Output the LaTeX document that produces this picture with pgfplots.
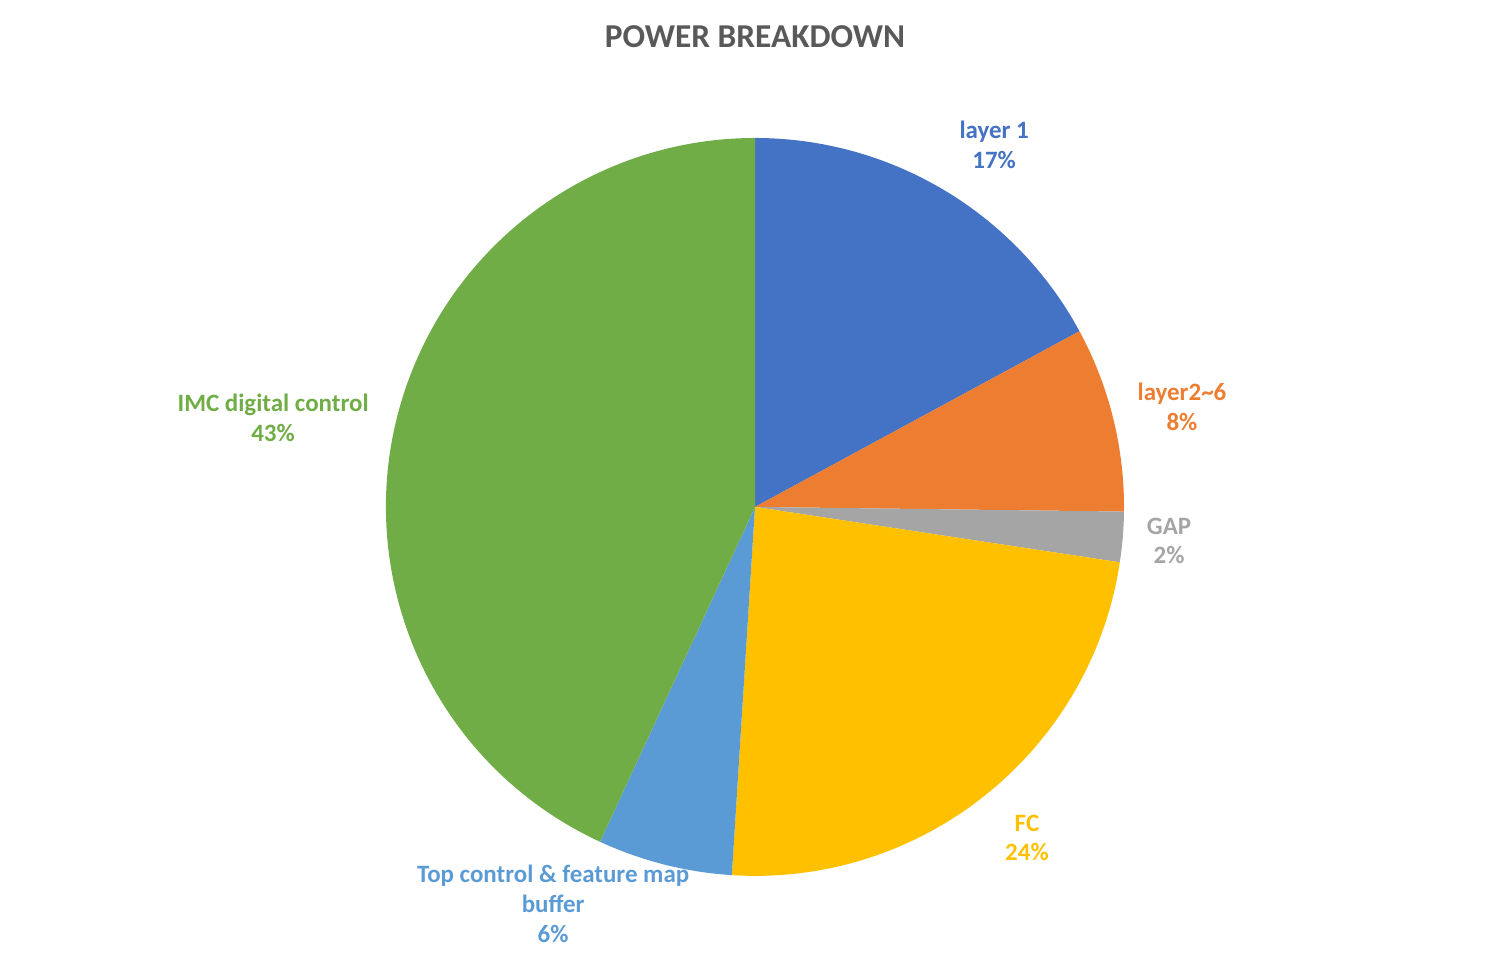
\documentclass[border=0pt]{standalone}
\usepackage{fontspec}
\setmainfont{Carlito}
\usepackage{pgfplots}
\pgfplotsset{compat=1.18}
\usepackage{pgfplotstable}

\definecolor{cLayerA}{HTML}{4472C4}
\definecolor{cLayerB}{HTML}{ED7D31}
\definecolor{cGap}{HTML}{A5A5A5}
\definecolor{cFC}{HTML}{FFC000}
\definecolor{cTop}{HTML}{5B9BD5}
\definecolor{cIMC}{HTML}{70AD47}
\definecolor{cTitle}{HTML}{595959}

\tikzset{lbl/.style={font=\fontsize{7.1}{8.5}\selectfont\bfseries, align=center}}

% share of power, clockwise from 12 o'clock
\pgfplotstableread{
value colour
17.1  cLayerA
8.1   cLayerB
2.2   cGap
23.6  cFC
5.9   cTop
43.1  cIMC
}\powertbl

\begin{document}
\begin{tikzpicture}
\begin{axis}[
  hide axis,
  scale only axis,
  width=15.1cm, height=9.53cm,
  xmin=-2.046, xmax=2.046,
  ymin=-1.209, ymax=1.374,
  clip=false,
]
% keep the whole chart area as the page
\path (rel axis cs:0,0) rectangle (rel axis cs:1,1);
\def\startang{90}
\pgfplotsforeachungrouped \i in {0,...,5}{
  \pgfplotstablegetelem{\i}{value}\of\powertbl
  \let\val\pgfplotsretval
  \pgfplotstablegetelem{\i}{colour}\of\powertbl
  \let\col\pgfplotsretval
  \pgfmathsetmacro\endang{\startang-3.6*\val}
  \edef\cmd{\noexpand\fill[\col] (axis cs:0,0) -- (axis cs:{cos(\startang)},{sin(\startang)})
    arc[start angle=\startang, end angle=\endang, radius=1] -- cycle;}
  \cmd
  \global\let\startang\endang
}
\node[font=\fontsize{9.5}{11}\selectfont\bfseries, text=cTitle] at (axis cs:0,1.274) {POWER BREAKDOWN};
\node[lbl, text=cLayerA] at (axis cs:0.648,0.981) {layer 1\\17\%};
\node[lbl, text=cLayerB] at (axis cs:1.157,0.271) {layer2\textasciitilde6\\8\%};
\node[lbl, text=cGap] at (axis cs:1.122,-0.092) {GAP\\2\%};
\node[lbl, text=cFC] at (axis cs:0.737,-0.897) {FC\\24\%};
\node[lbl, text=cTop] at (axis cs:-0.547,-1.076) {Top control \& feature map\\buffer\\6\%};
\node[lbl, text=cIMC] at (axis cs:-1.306,0.241) {IMC digital control\\43\%};
\end{axis}
\end{tikzpicture}
\end{document}
